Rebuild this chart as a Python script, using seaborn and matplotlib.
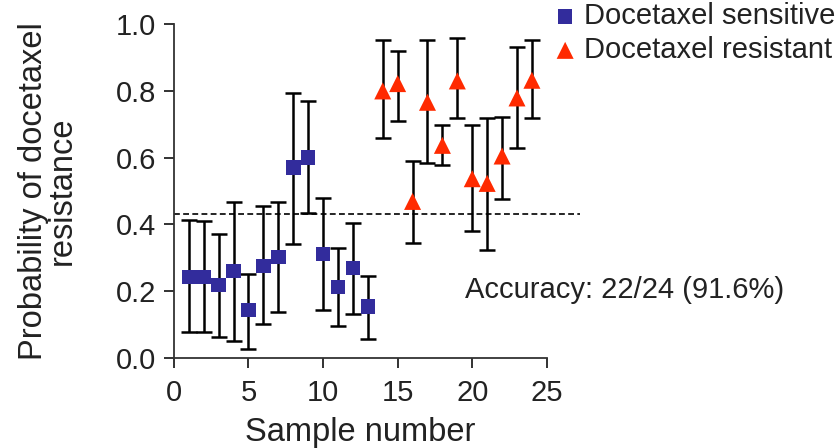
import numpy as np
import pandas as pd
import matplotlib
matplotlib.use("Agg")
import matplotlib.pyplot as plt
import seaborn as sns

# values
sample = list(range(1, 25))
group = ["Docetaxel sensitive"] * 13 + ["Docetaxel resistant"] * 11
prob = [0.243, 0.243, 0.218, 0.261, 0.144, 0.275, 0.303, 0.570, 0.600, 0.311, 0.212, 0.270, 0.155,
        0.800, 0.822, 0.469, 0.766, 0.637, 0.830, 0.537, 0.523, 0.605, 0.779, 0.832]
upper = [0.414, 0.410, 0.372, 0.468, 0.251, 0.456, 0.468, 0.795, 0.771, 0.479, 0.328, 0.404, 0.245,
         0.952, 0.921, 0.590, 0.952, 0.698, 0.958, 0.698, 0.718, 0.723, 0.933, 0.952]
lower = [0.077, 0.077, 0.064, 0.051, 0.028, 0.101, 0.137, 0.342, 0.434, 0.143, 0.096, 0.131, 0.058,
         0.658, 0.711, 0.343, 0.583, 0.578, 0.718, 0.379, 0.323, 0.476, 0.628, 0.718]
threshold = 0.432
threshold_end = 27.2
accuracy_text = "Accuracy: 22/24 (91.6%)"

df = pd.DataFrame({"sample": sample, "group": group, "prob": prob,
                   "upper": upper, "lower": lower})

sns.set_style("ticks")
plt.rcParams["font.family"] = ["Liberation Sans", "DejaVu Sans"]
txt = "#222222"

fig = plt.figure(figsize=(8.4, 4.48), dpi=100)
ax = fig.add_axes([0.207, 0.201, 0.444, 0.745])

ax.errorbar(df["sample"], df["prob"],
            yerr=[df["prob"] - df["lower"], df["upper"] - df["prob"]],
            fmt="none", ecolor="black", elinewidth=1.8, capsize=5.5, capthick=1.8, zorder=2)

sens = df[df["group"] == "Docetaxel sensitive"]
res = df[df["group"] == "Docetaxel resistant"]
sns.scatterplot(data=sens, x="sample", y="prob", marker="s", color="#322c9c", s=110,
                edgecolor="none", label="Docetaxel sensitive", ax=ax, zorder=3)
sns.scatterplot(data=res, x="sample", y="prob", marker="^", color="#ff2a00", s=150,
                edgecolor="none", label="Docetaxel resistant", ax=ax, zorder=3)

ax.plot([0, threshold_end], [threshold, threshold], ls=(0, (3.5, 2)), color="black",
        lw=1.2, clip_on=False, zorder=1)

ax.text(19.5, 0.205, accuracy_text, fontsize=21, va="center", ha="left", color=txt)

ax.set_xlim(0, 25)
ax.set_ylim(0, 1.0)
ax.set_xticks([0, 5, 10, 15, 20, 25])
ax.set_yticks([0.0, 0.2, 0.4, 0.6, 0.8, 1.0])
ax.set_yticklabels(["0.0", "0.2", "0.4", "0.6", "0.8", "1.0"])
ax.tick_params(labelsize=21, length=7, width=1.3, colors=txt, pad=6)
ax.tick_params(axis="x", pad=8)
ax.set_xlabel("Sample number", fontsize=23.5, color=txt, labelpad=7)
ax.set_ylabel("Probability of docetaxel\nresistance", fontsize=23.5, color=txt,
              labelpad=27, linespacing=0.9)
for s in ["left", "bottom"]:
    ax.spines[s].set_linewidth(1.3)
    ax.spines[s].set_color("#333333")
sns.despine(ax=ax)

leg = ax.legend(loc="upper left", bbox_to_anchor=(1.01, 1.066), frameon=False,
                fontsize=21, handletextpad=0.15, borderaxespad=0, borderpad=0,
                labelspacing=0.2, markerscale=1.0, handlelength=1.0)
for t in leg.get_texts():
    t.set_color(txt)

fig.savefig("out.png", dpi=100)
